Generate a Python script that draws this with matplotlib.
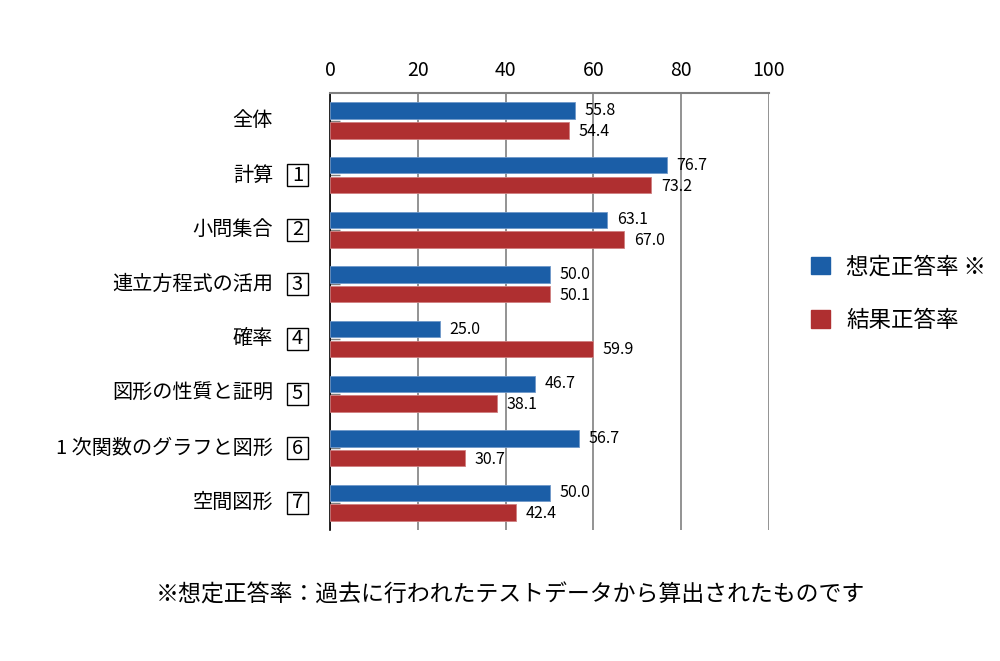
import numpy as np
import matplotlib
matplotlib.use("Agg")
import matplotlib.pyplot as plt
from matplotlib.patches import Patch, Rectangle
from matplotlib.transforms import blended_transform_factory

plt.rcParams['font.family'] = ['Noto Sans CJK JP', 'DejaVu Sans']

categories = ["全体", "計算", "小問集合", "連立方程式の活用", "確率",
              "図形の性質と証明", "1 次関数のグラフと図形", "空間図形"]
box_numbers = ["", "1", "2", "3", "4", "5", "6", "7"]
souteiseitou = [55.8, 76.7, 63.1, 50.0, 25.0, 46.7, 56.7, 50.0]
kekkaseitou = [54.4, 73.2, 67.0, 50.1, 59.9, 38.1, 30.7, 42.4]

blue = "#1b5ea7"
red = "#af2f30"

fig = plt.figure(figsize=(10, 6.61), dpi=100)
ax = fig.add_axes([0.33, 0.198, 0.439, 0.661])

y = np.arange(len(categories))
ax.barh(y - 0.18, souteiseitou, height=0.30, color=blue, edgecolor="#6f98c9", linewidth=0.6, zorder=3)
ax.barh(y + 0.18, kekkaseitou, height=0.30, color=red, edgecolor="#cf7f80", linewidth=0.6, zorder=3)

for i in range(len(categories)):
    ax.text(souteiseitou[i] + 2.2, y[i] - 0.18, f"{souteiseitou[i]:.1f}", va="center", ha="left", fontsize=11.5)
    ax.text(kekkaseitou[i] + 2.2, y[i] + 0.2, f"{kekkaseitou[i]:.1f}", va="center", ha="left", fontsize=11.5)

ax.set_xlim(0, 100)
ax.set_ylim(len(categories) - 0.5, -0.5)
ax.set_xticks([0, 20, 40, 60, 80, 100])
ax.xaxis.tick_top()
ax.tick_params(axis="x", length=0, pad=9, labelsize=14)
ax.set_yticks(y)
ax.set_yticklabels([])
ax.tick_params(axis="y", direction="in", length=7, width=1, color="#808080")

ax.grid(axis="x", color="#808080", linewidth=1.2, zorder=0)
ax.spines["bottom"].set_visible(False)
ax.spines["right"].set_visible(False)
ax.spines["top"].set_color("#808080")
ax.spines["top"].set_linewidth(1.5)
ax.spines["left"].set_color("black")
ax.spines["left"].set_linewidth(1.2)

trans = blended_transform_factory(fig.transFigure, ax.transData)
for i, cat in enumerate(categories):
    ax.text(0.273, y[i], cat, transform=trans, ha="right", va="center", fontsize=14.5)
    if box_numbers[i]:
        ax.add_patch(Rectangle((0.2865, y[i] - 0.2), 0.0215, 0.4, transform=trans, facecolor="white",
                               edgecolor="black", linewidth=1, clip_on=False))
        ax.text(0.2975, y[i], box_numbers[i], transform=trans, ha="center", va="center", fontsize=14.5)

handles = [Patch(color=blue), Patch(color=red)]
fig.legend(handles, ["想定正答率 ※", "結果正答率"], loc="center left", bbox_to_anchor=(0.791, 0.556),
           frameon=False, fontsize=16.2, handlelength=0.85, handleheight=0.85, labelspacing=1.35,
           handletextpad=0.7)

fig.text(0.51, 0.1, "※想定正答率：過去に行われたテストデータから算出されたものです", ha="center", va="center", fontsize=16.5)

fig.savefig("out.png", dpi=100)
